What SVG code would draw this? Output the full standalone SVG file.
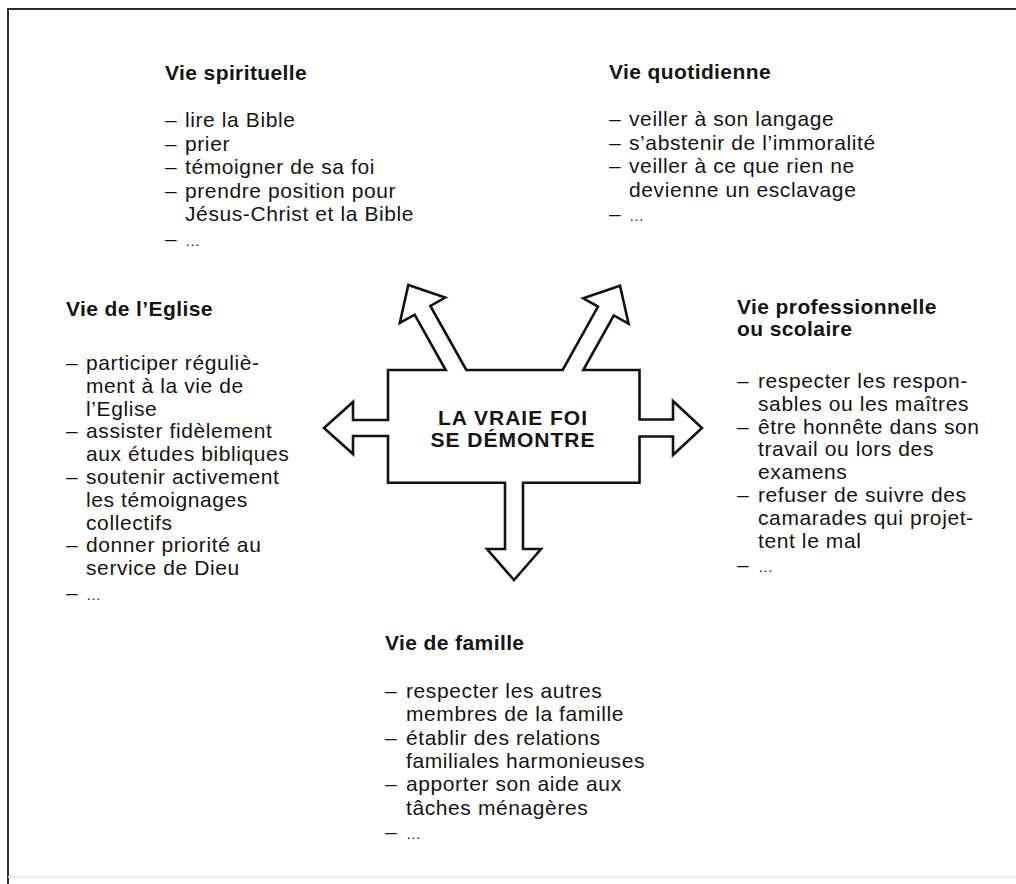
<svg xmlns="http://www.w3.org/2000/svg" width="1016" height="884" viewBox="0 0 1016 884">
<style>
text{font-family:"Liberation Sans",Arial,sans-serif;fill:#141414}
.h{font-size:21px;font-weight:bold;letter-spacing:0.4px}
.b{font-size:21px;letter-spacing:0.6px}
.d{font-size:15px}
.c{font-size:21px;font-weight:bold;letter-spacing:1px;text-anchor:middle}
.shape{fill:#fff;stroke:#111;stroke-width:2.6;stroke-linejoin:miter}
.frame{stroke:#2a2a2a;stroke-width:2;fill:none}
</style>
<rect width="1016" height="884" fill="#fff"/>
<g id="frame">
<path class="frame" d="M8,884 V9 H1016"/>
<path d="M8,877 H1016" stroke="#e2e2e2" stroke-width="1.5"/>
</g>
<g id="connectors">
<path class="shape" d="M388,370 H445.7 L414.65,314.7 L399.8,323 L408.3,285 L445.2,297.6 L430.35,305.9 L466.3,370 H562.7 L598,306.6 L583.2,298.3 L620,285.7 L628.6,323.7 L613.8,315.4 L583.3,370 H639.5 V419.5 H673 V401 L702,428 L673,455 V436.5 H639.5 V482.7 H523 V549 H541 L514,580 L487,549 H505 V482.7 H388 V436 H353 V454 L324,428 L353,402 V420 H388 Z"/>
</g>
<g id="center">
<text class="c" x="513" y="425">LA VRAIE FOI</text>
<text class="c" x="513" y="447">SE DÉMONTRE</text>
</g>
<g id="vie-spirituelle">
<text class="h" x="165" y="80">Vie spirituelle</text>
<text class="b" x="165" y="127">–</text><text class="b" x="185" y="127">lire la Bible</text>
<text class="b" x="165" y="150.5">–</text><text class="b" x="185" y="150.5">prier</text>
<text class="b" x="165" y="174">–</text><text class="b" x="185" y="174">témoigner de sa foi</text>
<text class="b" x="165" y="197.5">–</text><text class="b" x="185" y="197.5">prendre position pour</text>
<text class="b" x="185" y="221">Jésus-Christ et la Bible</text>
<text class="b" x="165" y="245.5">–</text><text class="b d" x="185" y="245.5">…</text>
</g>
<g id="vie-quotidienne">
<text class="h" x="609" y="79">Vie quotidienne</text>
<text class="b" x="609" y="126">–</text><text class="b" x="629" y="126">veiller à son langage</text>
<text class="b" x="609" y="149.5">–</text><text class="b" x="629" y="149.5">s’abstenir de l’immoralité</text>
<text class="b" x="609" y="173">–</text><text class="b" x="629" y="173">veiller à ce que rien ne</text>
<text class="b" x="629" y="196.5">devienne un esclavage</text>
<text class="b" x="609" y="221">–</text><text class="b d" x="629" y="221">…</text>
</g>
<g id="vie-eglise">
<text class="h" x="66" y="316">Vie de l’Eglise</text>
<text class="b" x="66" y="370">–</text><text class="b" x="86" y="370">participer réguliè-</text>
<text class="b" x="86" y="392.8">ment à la vie de</text>
<text class="b" x="86" y="415.6">l’Eglise</text>
<text class="b" x="66" y="438.4">–</text><text class="b" x="86" y="438.4">assister fidèlement</text>
<text class="b" x="86" y="461.2">aux études bibliques</text>
<text class="b" x="66" y="484">–</text><text class="b" x="86" y="484">soutenir activement</text>
<text class="b" x="86" y="506.8">les témoignages</text>
<text class="b" x="86" y="529.6">collectifs</text>
<text class="b" x="66" y="552.4">–</text><text class="b" x="86" y="552.4">donner priorité au</text>
<text class="b" x="86" y="575.2">service de Dieu</text>
<text class="b" x="66" y="600">–</text><text class="b d" x="86" y="600">…</text>
</g>
<g id="vie-professionnelle">
<text class="h" x="737" y="314">Vie professionnelle</text>
<text class="h" x="737" y="336">ou scolaire</text>
<text class="b" x="737" y="388">–</text><text class="b" x="758" y="388">respecter les respon-</text>
<text class="b" x="758" y="410.8">sables ou les maîtres</text>
<text class="b" x="737" y="433.6">–</text><text class="b" x="758" y="433.6">être honnête dans son</text>
<text class="b" x="758" y="456.4">travail ou lors des</text>
<text class="b" x="758" y="479.2">examens</text>
<text class="b" x="737" y="502">–</text><text class="b" x="758" y="502">refuser de suivre des</text>
<text class="b" x="758" y="524.8">camarades qui projet-</text>
<text class="b" x="758" y="547.6">tent le mal</text>
<text class="b" x="737" y="572">–</text><text class="b d" x="758" y="572">…</text>
</g>
<g id="vie-famille">
<text class="h" x="385" y="650">Vie de famille</text>
<text class="b" x="385" y="698">–</text><text class="b" x="406" y="698">respecter les autres</text>
<text class="b" x="406" y="721.3">membres de la famille</text>
<text class="b" x="385" y="744.6">–</text><text class="b" x="406" y="744.6">établir des relations</text>
<text class="b" x="406" y="768">familiales harmonieuses</text>
<text class="b" x="385" y="791.3">–</text><text class="b" x="406" y="791.3">apporter son aide aux</text>
<text class="b" x="406" y="814.6">tâches ménagères</text>
<text class="b" x="385" y="839">–</text><text class="b d" x="406" y="839">…</text>
</g>
</svg>
